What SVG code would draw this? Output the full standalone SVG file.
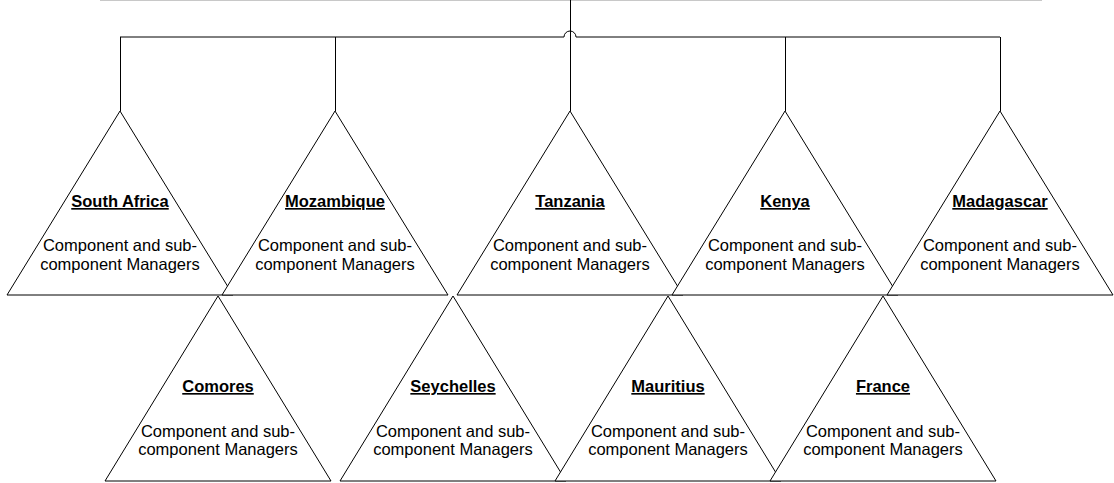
<svg xmlns="http://www.w3.org/2000/svg" width="1114" height="483" viewBox="0 0 1114 483">
<defs>
<style>
.tri{fill:#fff;stroke:#000;stroke-width:1}
.conn{fill:none;stroke:#000;stroke-width:1}
.top{fill:none;stroke:#c8c8c8;stroke-width:2}
.t{font-family:"Liberation Sans",Arial,sans-serif;font-size:16.5px;font-weight:bold;text-decoration:underline;text-anchor:middle;fill:#000}
.b{font-family:"Liberation Sans",Arial,sans-serif;font-size:16.5px;text-anchor:middle;fill:#000}
</style>
</defs>
<rect width="1114" height="483" fill="#fff"/>
<line class="top" x1="100" y1="0" x2="1042" y2="0"/>
<g id="connectors">
<path class="conn" d="M120,37 H564 A6,6 0 0 1 576,37 H1000"/>
<line class="conn" x1="570.5" y1="0" x2="570.5" y2="111"/>
<line class="conn" x1="120.5" y1="37" x2="120.5" y2="111"/>
<line class="conn" x1="335.5" y1="37" x2="335.5" y2="111"/>
<line class="conn" x1="785.5" y1="37" x2="785.5" y2="111"/>
<line class="conn" x1="1000.5" y1="37" x2="1000.5" y2="111"/>
</g>
<g id="south-africa">
<polygon class="tri" points="120,111 233,295 7,295"/>
<text class="t" x="120" y="207">South Africa</text>
<text class="b" x="120" y="251">Component and sub-</text>
<text class="b" x="120" y="269.5">component Managers</text>
</g>
<g id="mozambique">
<polygon class="tri" points="335,111 448,295 222,295"/>
<text class="t" x="335" y="207">Mozambique</text>
<text class="b" x="335" y="251">Component and sub-</text>
<text class="b" x="335" y="269.5">component Managers</text>
</g>
<g id="tanzania">
<polygon class="tri" points="570,111 683,295 457,295"/>
<text class="t" x="570" y="207">Tanzania</text>
<text class="b" x="570" y="251">Component and sub-</text>
<text class="b" x="570" y="269.5">component Managers</text>
</g>
<g id="kenya">
<polygon class="tri" points="785,111 898,295 672,295"/>
<text class="t" x="785" y="207">Kenya</text>
<text class="b" x="785" y="251">Component and sub-</text>
<text class="b" x="785" y="269.5">component Managers</text>
</g>
<g id="madagascar">
<polygon class="tri" points="1000,111 1113,295 887,295"/>
<text class="t" x="1000" y="207">Madagascar</text>
<text class="b" x="1000" y="251">Component and sub-</text>
<text class="b" x="1000" y="269.5">component Managers</text>
</g>
<g id="comores">
<polygon class="tri" points="218,296 331,481 105,481"/>
<text class="t" x="218" y="392">Comores</text>
<text class="b" x="218" y="436.5">Component and sub-</text>
<text class="b" x="218" y="455">component Managers</text>
</g>
<g id="seychelles">
<polygon class="tri" points="453,296 566,481 340,481"/>
<text class="t" x="453" y="392">Seychelles</text>
<text class="b" x="453" y="436.5">Component and sub-</text>
<text class="b" x="453" y="455">component Managers</text>
</g>
<g id="mauritius">
<polygon class="tri" points="668,296 781,481 555,481"/>
<text class="t" x="668" y="392">Mauritius</text>
<text class="b" x="668" y="436.5">Component and sub-</text>
<text class="b" x="668" y="455">component Managers</text>
</g>
<g id="france">
<polygon class="tri" points="883,296 996,481 770,481"/>
<text class="t" x="883" y="392">France</text>
<text class="b" x="883" y="436.5">Component and sub-</text>
<text class="b" x="883" y="455">component Managers</text>
</g>
</svg>
